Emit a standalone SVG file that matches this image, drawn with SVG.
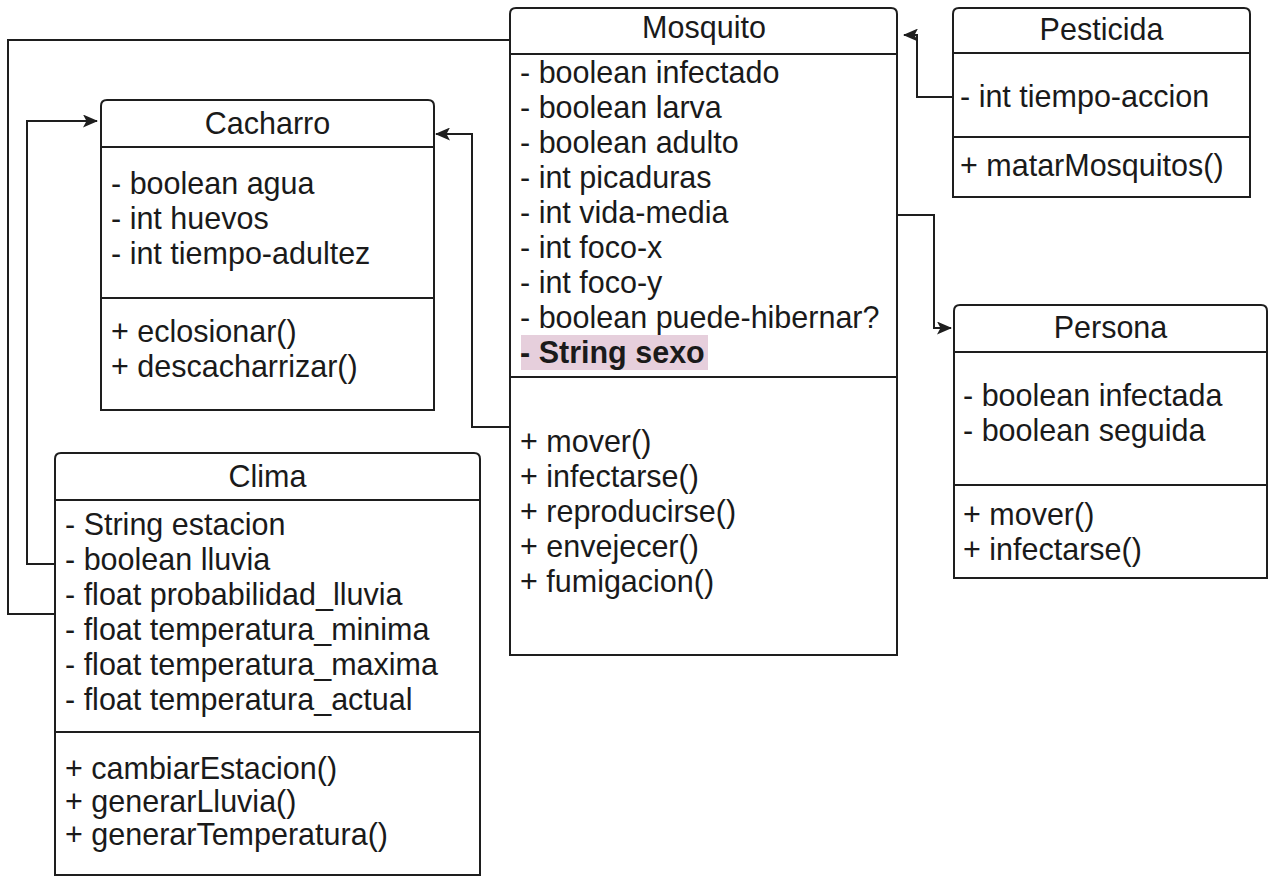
<svg xmlns="http://www.w3.org/2000/svg" width="1269" height="877" viewBox="0 0 1269 877">
  <style>
    .box { fill: #ffffff; stroke: #1e1e1e; stroke-width: 2; }
    .div { stroke: #1e1e1e; stroke-width: 2; fill: none; }
    .edge { fill: none; stroke: #1e1e1e; stroke-width: 2; }
    text { font-family: "Liberation Sans", Arial, sans-serif; font-size: 30.5px; fill: #1a1a1a; }
    .title { text-anchor: middle; }
    .bold { font-weight: bold; }
  </style>
  <defs>
    <marker id="arrow" viewBox="0 0 15 13" refX="14" refY="6.5" markerWidth="15" markerHeight="13" markerUnits="userSpaceOnUse" orient="auto">
      <path d="M0,0 L15,6.5 L0,13 L3.5,6.5 Z" fill="#1e1e1e"/>
    </marker>
  </defs>
  <rect x="0" y="0" width="1269" height="877" fill="#ffffff"/>

  <!-- connectors -->
  <g id="connectors">
    <path class="edge" d="M510,40 L8,40 L8,614 L55,614"/>
    <path class="edge" d="M55,564 L27,564 L27,121 L97,121" marker-end="url(#arrow)"/>
    <path class="edge" d="M509,427 L472,427 L472,134 L436,134" marker-end="url(#arrow)"/>
    <path class="edge" d="M953,97 L917,97 L917,35 L904,35" marker-end="url(#arrow)"/>
    <path class="edge" d="M898,215 L934,215 L934,328 L951,328" marker-end="url(#arrow)"/>
  </g>

  <!-- Mosquito -->
  <g id="mosquito">
    <path class="box" d="M510,655 L510,14 Q510,8 516,8 L891,8 Q897,8 897,14 L897,655 Z"/>
    <line class="div" x1="510" y1="54" x2="897" y2="54"/>
    <line class="div" x1="510" y1="377" x2="897" y2="377"/>
    <rect x="521" y="335" width="187" height="35" fill="#e6cfdc"/>
    <text class="title" x="704" y="38">Mosquito</text>
    <text x="520" y="83">- boolean infectado</text>
    <text x="520" y="118">- boolean larva</text>
    <text x="520" y="153">- boolean adulto</text>
    <text x="520" y="188">- int picaduras</text>
    <text x="520" y="223">- int vida-media</text>
    <text x="520" y="258">- int foco-x</text>
    <text x="520" y="293">- int foco-y</text>
    <text x="520" y="328">- boolean puede-hibernar?</text>
    <text class="bold" x="520" y="363">- String sexo</text>
    <text x="520" y="452">+ mover()</text>
    <text x="520" y="487">+ infectarse()</text>
    <text x="520" y="522">+ reproducirse()</text>
    <text x="520" y="557">+ envejecer()</text>
    <text x="520" y="592">+ fumigacion()</text>
  </g>

  <!-- Cacharro -->
  <g id="cacharro">
    <path class="box" d="M101,410 L101,106 Q101,100 107,100 L428,100 Q434,100 434,106 L434,410 Z"/>
    <line class="div" x1="101" y1="147" x2="434" y2="147"/>
    <line class="div" x1="101" y1="298" x2="434" y2="298"/>
    <text class="title" x="267.5" y="134">Cacharro</text>
    <text x="111" y="194">- boolean agua</text>
    <text x="111" y="229">- int huevos</text>
    <text x="111" y="264">- int tiempo-adultez</text>
    <text x="111" y="342">+ eclosionar()</text>
    <text x="111" y="377">+ descacharrizar()</text>
  </g>

  <!-- Clima -->
  <g id="clima">
    <path class="box" d="M55,875 L55,459 Q55,453 61,453 L474,453 Q480,453 480,459 L480,875 Z"/>
    <line class="div" x1="55" y1="500" x2="480" y2="500"/>
    <line class="div" x1="55" y1="732" x2="480" y2="732"/>
    <text class="title" x="267.5" y="487">Clima</text>
    <text x="65" y="535">- String estacion</text>
    <text x="65" y="570">- boolean lluvia</text>
    <text x="65" y="605">- float probabilidad_lluvia</text>
    <text x="65" y="640">- float temperatura_minima</text>
    <text x="65" y="675">- float temperatura_maxima</text>
    <text x="65" y="710">- float temperatura_actual</text>
    <text x="65" y="779">+ cambiarEstacion()</text>
    <text x="65" y="812">+ generarLluvia()</text>
    <text x="65" y="845">+ generarTemperatura()</text>
  </g>

  <!-- Pesticida -->
  <g id="pesticida">
    <path class="box" d="M953,197 L953,14 Q953,8 959,8 L1244,8 Q1250,8 1250,14 L1250,197 Z"/>
    <line class="div" x1="953" y1="53" x2="1250" y2="53"/>
    <line class="div" x1="953" y1="137" x2="1250" y2="137"/>
    <text class="title" x="1101.5" y="40">Pesticida</text>
    <text x="960" y="107">- int tiempo-accion</text>
    <text x="960" y="176">+ matarMosquitos()</text>
  </g>

  <!-- Persona -->
  <g id="persona">
    <path class="box" d="M954,578 L954,311 Q954,305 960,305 L1261,305 Q1267,305 1267,311 L1267,578 Z"/>
    <line class="div" x1="954" y1="352" x2="1267" y2="352"/>
    <line class="div" x1="954" y1="485" x2="1267" y2="485"/>
    <text class="title" x="1110.5" y="338">Persona</text>
    <text x="963" y="406">- boolean infectada</text>
    <text x="963" y="441">- boolean seguida</text>
    <text x="963" y="525">+ mover()</text>
    <text x="963" y="560">+ infectarse()</text>
  </g>
</svg>
